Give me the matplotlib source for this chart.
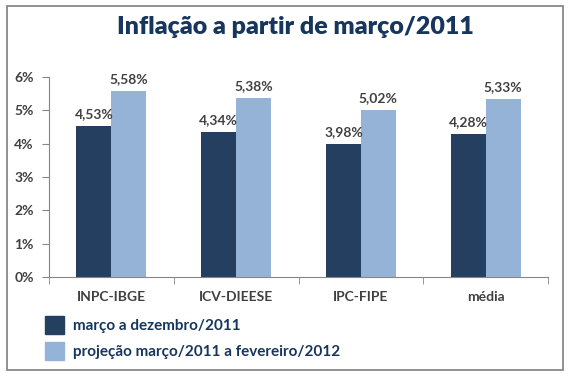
import matplotlib.pyplot as plt
from matplotlib.patches import Rectangle
import numpy as np

categorias = ["INPC-IBGE", "ICV-DIEESE", "IPC-FIPE", "média"]
mar_dez_2011 = [4.53, 4.34, 3.98, 4.28]
projecao = [5.58, 5.38, 5.02, 5.33]
serie_nomes = ["março a dezembro/2011", "projeção março/2011 a fevereiro/2012"]

cor_escura = "#243F60"
cor_clara = "#95B3D7"
cor_texto = "#404040"
cor_titulo = "#17365D"

plt.rcParams['font.family'] = ['Lato', 'DejaVu Sans']

fig = plt.figure(figsize=(5.69, 3.76), dpi=100)
W, H = 569, 376

# moldura
fig.patches.append(Rectangle((7 / W, 1 - 370 / H), 556 / W, 364 / H,
                             transform=fig.transFigure, fill=False,
                             edgecolor="#7F7F7F", linewidth=1.2))

fig.text(0.52, 1 - 27 / H, "Inflação a partir de março/2011", ha="center", va="center",
         fontsize=18, fontweight="heavy", color=cor_titulo)

ax = fig.add_axes([49 / W, 1 - 277 / H, (548 - 49) / W, (277 - 77) / H])
x = np.arange(len(categorias))
w = 0.28
b1 = ax.bar(x - w / 2, mar_dez_2011, w, color=cor_escura)
b2 = ax.bar(x + w / 2, projecao, w, color=cor_clara)

for barras, vals in ((b1, mar_dez_2011), (b2, projecao)):
    for r, v in zip(barras, vals):
        ax.text(r.get_x() + r.get_width() / 2, v + 0.18, f"{v:.2f}%".replace(".", ","),
                ha="center", va="bottom", fontsize=10, fontweight="bold", color=cor_texto)

ax.set_xlim(-0.5, len(categorias) - 0.5)
ax.set_ylim(0, 6)
ax.set_yticks(range(0, 7))
ax.set_yticklabels([f"{i}%" for i in range(0, 7)])
ax.set_xticks(x)
ax.set_xticklabels(categorias)
ax.set_xticks(np.arange(-0.5, len(categorias)), minor=True)
ax.tick_params(axis="x", which="major", length=0, pad=10)
ax.tick_params(axis="x", which="minor", length=5, color="#868686", direction="out")
ax.tick_params(axis="y", length=5, color="#868686", direction="out", pad=6)
for lab in ax.get_xticklabels() + ax.get_yticklabels():
    lab.set_fontsize(10)
    lab.set_fontweight("bold")
    lab.set_color(cor_texto)
for s in ("top", "right"):
    ax.spines[s].set_visible(False)
for s in ("left", "bottom"):
    ax.spines[s].set_color("#868686")

# legenda
for i, (nome, cor) in enumerate(zip(serie_nomes, [cor_escura, cor_clara])):
    y0 = 316 + i * 26
    fig.patches.append(Rectangle((45 / W, 1 - (y0 + 18) / H), 19 / W, 18 / H,
                                 transform=fig.transFigure, color=cor))
    fig.text(73 / W, 1 - (y0 + 10) / H, nome, ha="left", va="center",
             fontsize=11, fontweight="bold", color=cor_titulo)

fig.savefig("out.png", dpi=100)
